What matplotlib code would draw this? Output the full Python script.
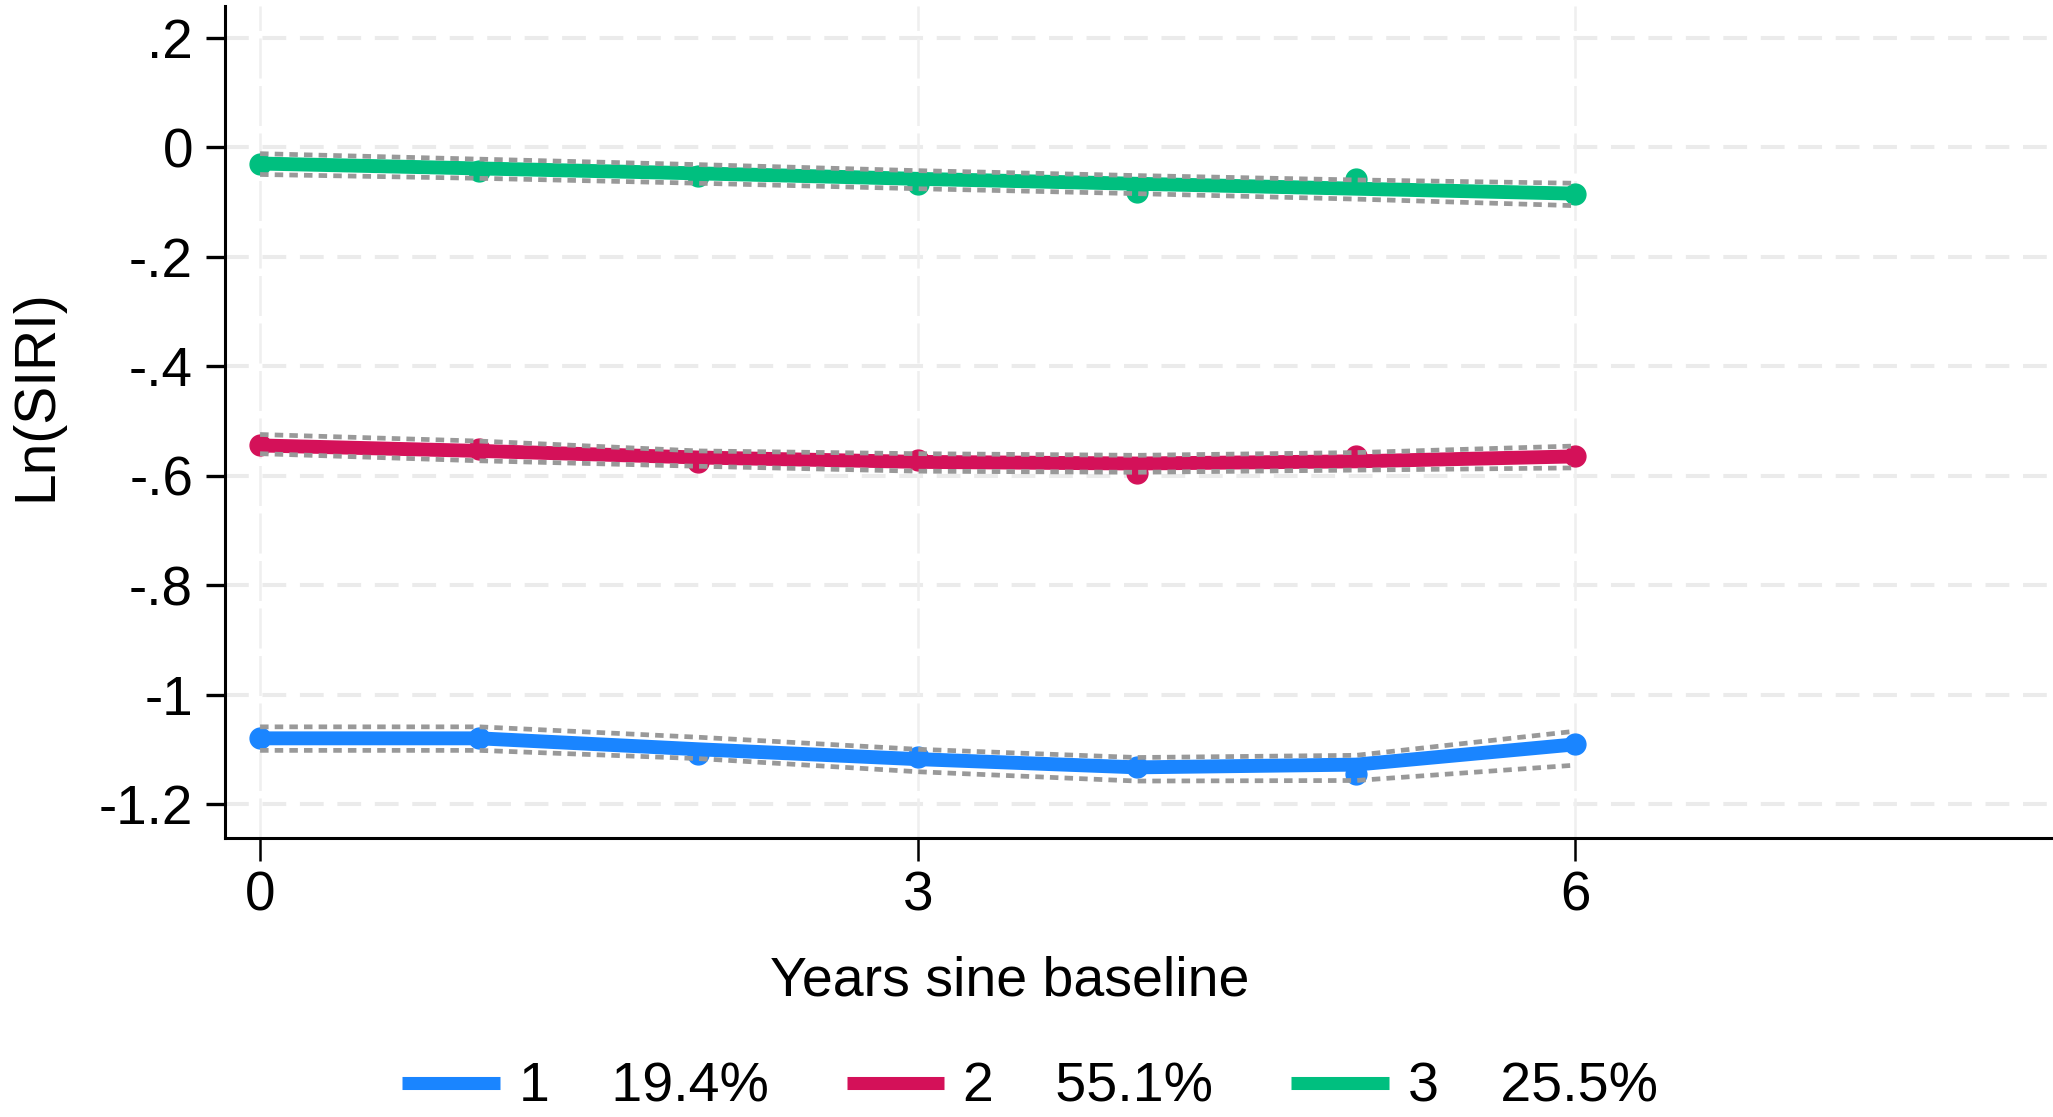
import matplotlib.pyplot as plt
from matplotlib.lines import Line2D

plt.rcParams['font.family'] = ['Liberation Sans', 'DejaVu Sans']

years = [0, 1, 2, 3, 4, 5, 6]
groups = ['1', '2', '3']
shares = ['19.4%', '55.1%', '25.5%']
colors = ['#1a85ff', '#d41159', '#00bf7f']

# observed means (dots)
obs_1 = [-1.080, -1.080, -1.108, -1.114, -1.132, -1.145, -1.091]
obs_2 = [-0.545, -0.551, -0.576, -0.572, -0.595, -0.565, -0.565]
obs_3 = [-0.030, -0.043, -0.052, -0.067, -0.082, -0.058, -0.085]

# predicted trajectories
pred_1 = [-1.080, -1.080, -1.100, -1.118, -1.133, -1.128, -1.091]
pred_2 = [-0.545, -0.555, -0.567, -0.575, -0.578, -0.574, -0.565]
pred_3 = [-0.030, -0.039, -0.048, -0.058, -0.067, -0.076, -0.085]

# confidence bands
upper_1 = [-1.059, -1.059, -1.078, -1.100, -1.115, -1.111, -1.067]
lower_1 = [-1.102, -1.102, -1.117, -1.141, -1.158, -1.157, -1.129]
upper_2 = [-0.525, -0.537, -0.555, -0.560, -0.563, -0.558, -0.546]
lower_2 = [-0.560, -0.573, -0.583, -0.592, -0.594, -0.590, -0.586]
upper_3 = [-0.012, -0.022, -0.032, -0.043, -0.052, -0.060, -0.066]
lower_3 = [-0.050, -0.057, -0.066, -0.076, -0.085, -0.095, -0.107]

yticks = [0.2, 0, -0.2, -0.4, -0.6, -0.8, -1, -1.2]
ytick_labels = ['.2', '0', '-.2', '-.4', '-.6', '-.8', '-1', '-1.2']
xticks = [0, 3, 6]

obs = [obs_1, obs_2, obs_3]
pred = [pred_1, pred_2, pred_3]
upper = [upper_1, upper_2, upper_3]
lower = [lower_1, lower_2, lower_3]

fig = plt.figure(figsize=(20.53, 11.17), dpi=100)
ax = fig.add_axes([0.1096, 0.2498, 0.8894, 0.7452])

for i in range(3):
    ax.plot(years, obs[i], 'o', color=colors[i], markersize=15, zorder=3)
    ax.plot(years, pred[i], '-', color=colors[i], lw=10, zorder=4,
            solid_capstyle='round')
    for band in (upper[i], lower[i]):
        ax.plot(years, band, color='#999999', lw=3.4,
                linestyle=(0, (1.8, 1.3)), zorder=5)

ax.set_xlim(-0.16, 8.17)
ax.set_ylim(-1.262, 0.2585)
ax.set_yticks(yticks)
ax.set_yticklabels(ytick_labels)
ax.set_xticks(xticks)

# light dashed grid
for y in yticks:
    ax.axhline(y, color='#ebebeb', lw=2.9, linestyle=(0, (5.9, 3.4)), zorder=1)
for x in xticks:
    ax.axvline(x, color='#efefef', lw=1.8, linestyle=(0, (16, 3)), zorder=1)

for side in ['top', 'right']:
    ax.spines[side].set_visible(False)
for side in ['left', 'bottom']:
    ax.spines[side].set_linewidth(2.2)

ax.tick_params(axis='y', length=14, width=2.4, pad=9, labelsize=39.5)
ax.tick_params(axis='x', length=16.5, width=1.8, pad=7, labelsize=39.5)

ax.set_xlabel('Years sine baseline', fontsize=40, va='baseline')
ax.xaxis.set_label_coords(0.43, -0.1887)
ax.set_ylabel('Ln(SIRI)', fontsize=41, va='center')
ax.yaxis.set_label_coords(-0.1035, 0.532)

handles = [Line2D([], [], color=c, lw=9.4, solid_capstyle='butt') for c in colors]
labels = [g + '    ' + s for g, s in zip(groups, shares)]
fig.legend(handles, labels, loc='center', bbox_to_anchor=(1030 / 2053, 0.026),
           ncol=3, frameon=False, fontsize=40, handlelength=1.76,
           handletextpad=0.34, columnspacing=1.4, borderpad=0, borderaxespad=0)

fig.savefig('out.png', dpi=100)
